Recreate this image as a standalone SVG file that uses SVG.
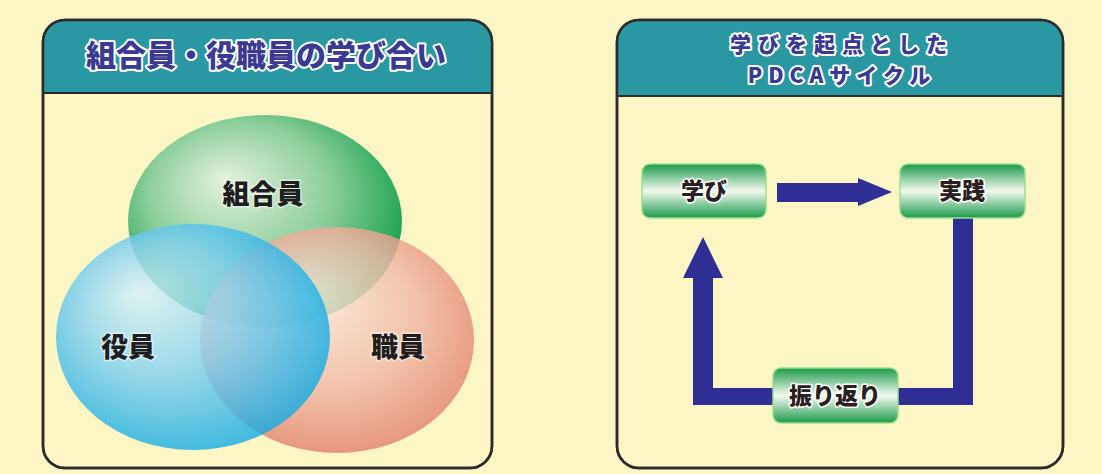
<svg xmlns="http://www.w3.org/2000/svg" width="1102" height="474" viewBox="0 0 1102 474">
<style>
.panel{fill:#fbf6c4;stroke:#2b2b2b;stroke-width:2.5}
.hdr{fill:#2a98a2}
.htxt{font-family:"Noto Sans CJK JP","Noto Sans CJK SC",sans-serif;font-weight:900;fill:#3a3a92;stroke:#ffffff;stroke-width:4;paint-order:stroke;stroke-linejoin:round;text-anchor:middle}
.vtxt{font-family:"Noto Sans CJK JP","Noto Sans CJK SC",sans-serif;font-weight:900;font-size:27px;fill:#1e1e1e;text-anchor:middle;stroke:#ffffff;stroke-opacity:0.5;stroke-width:3;paint-order:stroke}
.btxt{font-family:"Noto Sans CJK JP","Noto Sans CJK SC",sans-serif;font-weight:900;font-size:23px;fill:#2a2020;text-anchor:middle;stroke:#ffffff;stroke-width:3;paint-order:stroke;stroke-linejoin:round}
.box{fill:url(#gbox);stroke:#9be08a;stroke-width:1.5}
.arr{fill:#2e2e94}
</style>
<defs>
<linearGradient id="gbox" x1="0" y1="0" x2="0" y2="1">
<stop offset="0" stop-color="#1a9a4a"/>
<stop offset="0.5" stop-color="#f4faf0"/>
<stop offset="1" stop-color="#1a9a4a"/>
</linearGradient>
<radialGradient id="gg" cx="0.45" cy="0.42" r="0.6" fx="0.35" fy="0.3">
<stop offset="0" stop-color="#e4f2dc"/>
<stop offset="0.55" stop-color="#8ecf9c"/>
<stop offset="1" stop-color="#14a04a"/>
</radialGradient>
<radialGradient id="gb" cx="0.45" cy="0.45" r="0.6" fx="0.3" fy="0.3">
<stop offset="0" stop-color="#d8f2fb"/>
<stop offset="0.5" stop-color="#7fd0f2"/>
<stop offset="1" stop-color="#08a8e4"/>
</radialGradient>
<radialGradient id="gr" cx="0.5" cy="0.45" r="0.6" fx="0.4" fy="0.3">
<stop offset="0" stop-color="#faeadf"/>
<stop offset="0.55" stop-color="#f1b8a6"/>
<stop offset="1" stop-color="#e07a66"/>
</radialGradient>
<clipPath id="cl"><rect x="43" y="20" width="449" height="448" rx="22"/></clipPath>
<clipPath id="cr"><rect x="617" y="20" width="446" height="448" rx="22"/></clipPath>
</defs>
<rect width="1102" height="474" fill="#fbf6c4"/>

<g id="panel-left">
<rect class="panel" x="43" y="20" width="449" height="448" rx="22"/>
<g clip-path="url(#cl)"><rect class="hdr" x="43" y="20" width="449" height="73"/></g>
<line x1="43" y1="93" x2="492" y2="93" stroke="#2b2b2b" stroke-width="2"/>
<rect x="43" y="20" width="449" height="448" rx="22" fill="none" stroke="#2b2b2b" stroke-width="2.5"/>
<text class="htxt" x="266" y="66" font-size="30">組合員・役職員の学び合い</text>
</g>

<g id="venn">
<g id="node-kumiaiin"><ellipse cx="265" cy="221" rx="137" ry="106" fill="url(#gg)"/></g>
<g id="node-shokuin"><ellipse cx="337" cy="340" rx="137" ry="113" fill="url(#gr)" opacity="0.82"/></g>
<g id="node-yakuin"><ellipse cx="193" cy="337" rx="137" ry="113" fill="url(#gb)" opacity="0.8"/></g>
<text class="vtxt" x="263" y="204">組合員</text>
<text class="vtxt" x="128" y="357">役員</text>
<text class="vtxt" x="398" y="357">職員</text>
</g>

<g id="panel-right">
<rect class="panel" x="617" y="20" width="446" height="448" rx="22"/>
<g clip-path="url(#cr)"><rect class="hdr" x="617" y="20" width="446" height="76"/></g>
<line x1="617" y1="96" x2="1063" y2="96" stroke="#2b2b2b" stroke-width="2"/>
<rect x="617" y="20" width="446" height="448" rx="22" fill="none" stroke="#2b2b2b" stroke-width="2.5"/>
<text class="htxt" x="842" y="52" font-size="21" letter-spacing="7">学びを起点とした</text>
<text class="htxt" x="842" y="83" font-size="21" letter-spacing="6">PDCAサイクル</text>
</g>

<g id="connectors">
<polygon class="arr" points="777,183 858,183 858,178 892,192 858,206 858,202 777,202"/>
<polygon class="arr" points="953,218 973,218 973,405 693,405 693,278 683,278 703,237 723,278 713,278 713,388 953,388"/>
</g>

<g id="node-manabi">
<rect class="box" x="642" y="164" width="124" height="54" rx="8"/>
<text class="btxt" x="704" y="199">学び</text>
</g>
<g id="node-jissen">
<rect class="box" x="900" y="164" width="125" height="54" rx="8"/>
<text class="btxt" x="962" y="199">実践</text>
</g>
<g id="node-furikaeri">
<rect class="box" x="773" y="368" width="125" height="55" rx="8"/>
<text class="btxt" x="835" y="404">振り返り</text>
</g>
</svg>
